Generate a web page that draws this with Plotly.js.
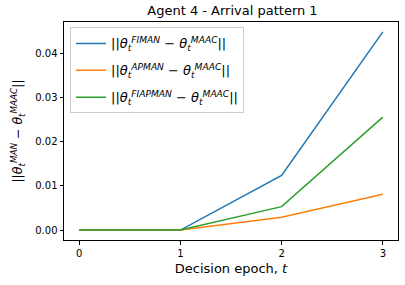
<!DOCTYPE html>
<html>
<head>
<script src="https://cdn.plot.ly/plotly-3.0.1.min.js"></script>
<style>html,body{margin:0;padding:0;background:#fff;}#chart{width:405px;height:285px;}</style>
</head>
<body>
<div id="chart"></div>
<script>
const epochs = [0, 1, 2, 3];
const fiman = [0.0, 0.0, 0.0124, 0.0449];
const apman = [0.0, 0.0, 0.0029, 0.0081];
const fiapman = [0.0, 0.0, 0.0053, 0.0256];
const seriesNames = [
  "||<i>θ</i><sub><i>t</i></sub><sup><i>FIMAN</i></sup> − <i>θ</i><sub><i>t</i></sub><sup><i>MAAC</i></sup>||",
  "||<i>θ</i><sub><i>t</i></sub><sup><i>APMAN</i></sup> − <i>θ</i><sub><i>t</i></sub><sup><i>MAAC</i></sup>||",
  "||<i>θ</i><sub><i>t</i></sub><sup><i>FIAPMAN</i></sup> − <i>θ</i><sub><i>t</i></sub><sup><i>MAAC</i></sup>||"
];
const colors = ["#1f77b4", "#ff7f0e", "#2ca02c"];
const values = [fiman, apman, fiapman];

const traces = values.map((v, i) => ({
  x: epochs, y: v, type: "scatter", mode: "lines",
  name: seriesNames[i], legendgroup: "g" + i,
  line: {color: colors[i], width: 1.5}
}));

const font = {family: "DejaVu Sans", color: "#000"};
const layout = {
  width: 405, height: 285,
  margin: {l: 64, r: 7, t: 22, b: 45},
  paper_bgcolor: "#fff", plot_bgcolor: "#fff",
  font: Object.assign({size: 10}, font),
  title: {text: "Agent 4 - Arrival pattern 1", font: Object.assign({size: 13}, font),
          x: 0.574, xanchor: "center", y: 0.965, yanchor: "middle"},
  showlegend: true,
  legend: {x: 0.018, y: 0.975, xanchor: "left", yanchor: "top", traceorder: "grouped",
           bgcolor: "rgba(255,255,255,0.8)", bordercolor: "#cccccc", borderwidth: 1,
           font: Object.assign({size: 13}, font), itemwidth: 30, tracegroupgap: 7},
  xaxis: {range: [-0.15, 3.15], tickvals: epochs, ticktext: ["0","1","2","3"],
          showgrid: false, zeroline: false, showline: true, mirror: true,
          linecolor: "#000", linewidth: 1, ticks: "outside", ticklen: 3.5, tickcolor: "#000",
          tickfont: Object.assign({size: 10}, font),
          title: {text: "Decision epoch, <i>t</i>", font: Object.assign({size: 13}, font), standoff: 6}},
  yaxis: {range: [-0.00225, 0.04715], dtick: 0.01, tick0: 0, tickformat: ".2f",
          showgrid: false, zeroline: false, showline: true, mirror: true,
          linecolor: "#000", linewidth: 1, ticks: "outside", ticklen: 3.5, tickcolor: "#000",
          tickfont: Object.assign({size: 10}, font),
          title: {text: "||<i>θ</i><sub><i>t</i></sub><sup><i>MAN</i></sup> − <i>θ</i><sub><i>t</i></sub><sup><i>MAAC</i></sup>||",
                  font: Object.assign({size: 12.5}, font), standoff: 9}}
};
Plotly.newPlot("chart", traces, layout, {displayModeBar: false, staticPlot: true});
</script>
</body>
</html>
